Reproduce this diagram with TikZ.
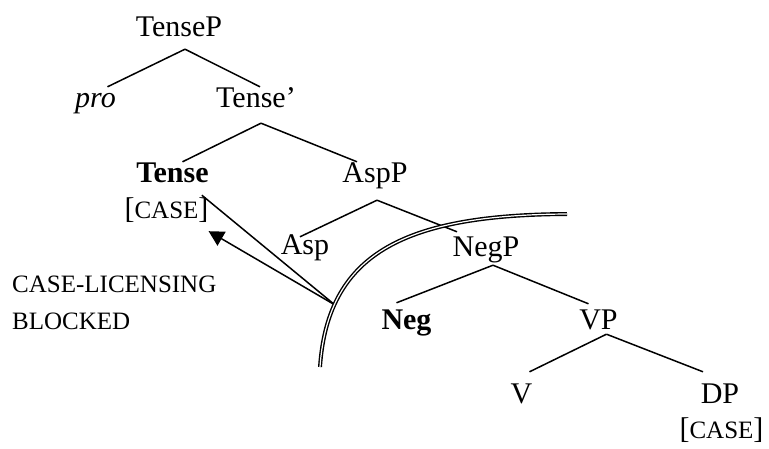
\documentclass[tikz,border=0pt]{standalone}
\usepackage{fontspec}
\setmainfont{Liberation Serif}
\usetikzlibrary{arrows.meta}
\newcommand{\casesc}[1]{{\fontsize{25}{30}\selectfont #1}}

\begin{document}
\begin{tikzpicture}[x=1pt, y=-1pt,
  cat/.style={font=\fontsize{30}{36}\selectfont, inner sep=0pt, text height=21pt, text depth=12pt, anchor=base},
  branch/.style={line width=1.5pt},
  barrier/.style={double, line width=1.4pt, double distance=1.2pt}]
  \useasboundingbox (0,0) rectangle (769,449);

  % Categorias
  \node[cat] (tensep) at (179,37) {TenseP};
  \node[cat] (pro) at (95.5,108) {\textit{pro}};
  \node[cat] (tensebar) at (256,108) {Tense’};
  \node[cat] (tense) at (172.5,183) {\textbf{Tense}};
  \node[cat] (tensecase) at (166.5,219) {[\casesc{CASE}]};
  \node[cat] (aspp) at (375,183) {AspP};
  \node[cat] (asp) at (305,255) {Asp};
  \node[cat] (negp) at (486,257) {NegP};
  \node[cat] (neg) at (406.5,330) {\textbf{Neg}};
  \node[cat] (vp) at (598.5,330) {VP};
  \node[cat] (v) at (521.5,403) {V};
  \node[cat] (dp) at (720,403) {DP};
  \node[cat] (dpcase) at (721.5,438) {[\casesc{CASE}]};

  % Rótulo
  \node[font=\fontsize{25}{37}\selectfont, align=left, anchor=base west, inner sep=0pt] (blocked) at (12,330) {CASE-LICENSING\\BLOCKED};

  % Ramos
  \draw[branch] ([xshift=6pt]tensep.south) -- ([xshift=12pt]pro.north);
  \draw[branch] ([xshift=6pt]tensep.south) -- ([xshift=4pt]tensebar.north);
  \draw[branch] ([xshift=5pt, yshift=-3pt]tensebar.south) -- ([xshift=10pt]tense.north);
  \draw[branch] ([xshift=5pt, yshift=-3pt]tensebar.south) -- ([xshift=-18pt]aspp.north);
  \draw[branch] ([xshift=2pt, yshift=-5pt]aspp.south) -- ([xshift=-5pt, yshift=-3pt]asp.north);
  \draw[branch] ([xshift=2pt, yshift=-5pt]aspp.south) -- ([xshift=-29pt, yshift=4pt]negp.north);
  \draw[branch] ([xshift=7pt, yshift=4pt]negp.south) -- ([xshift=-10pt, yshift=6pt]neg.north);
  \draw[branch] ([xshift=7pt, yshift=4pt]negp.south) -- ([xshift=-10pt, yshift=5pt]vp.north);
  \draw[branch] ([xshift=8pt, yshift=8pt]vp.south) -- ([xshift=8pt, yshift=10pt]v.north);
  \draw[branch] ([xshift=8pt, yshift=8pt]vp.south) -- ([xshift=-17pt, yshift=10pt]dp.north);

  % Bloqueio
  \coordinate (block) at (335,305);
  \draw[branch] ([xshift=-7pt]tense.south east) -- (block);
  \draw[branch, -{Triangle[length=15pt, width=16pt]}] (block) -- (tensecase.south east);
  \draw[barrier] (320,367) .. controls (328,250) and (410,215) .. (567,214);
\end{tikzpicture}
\end{document}
